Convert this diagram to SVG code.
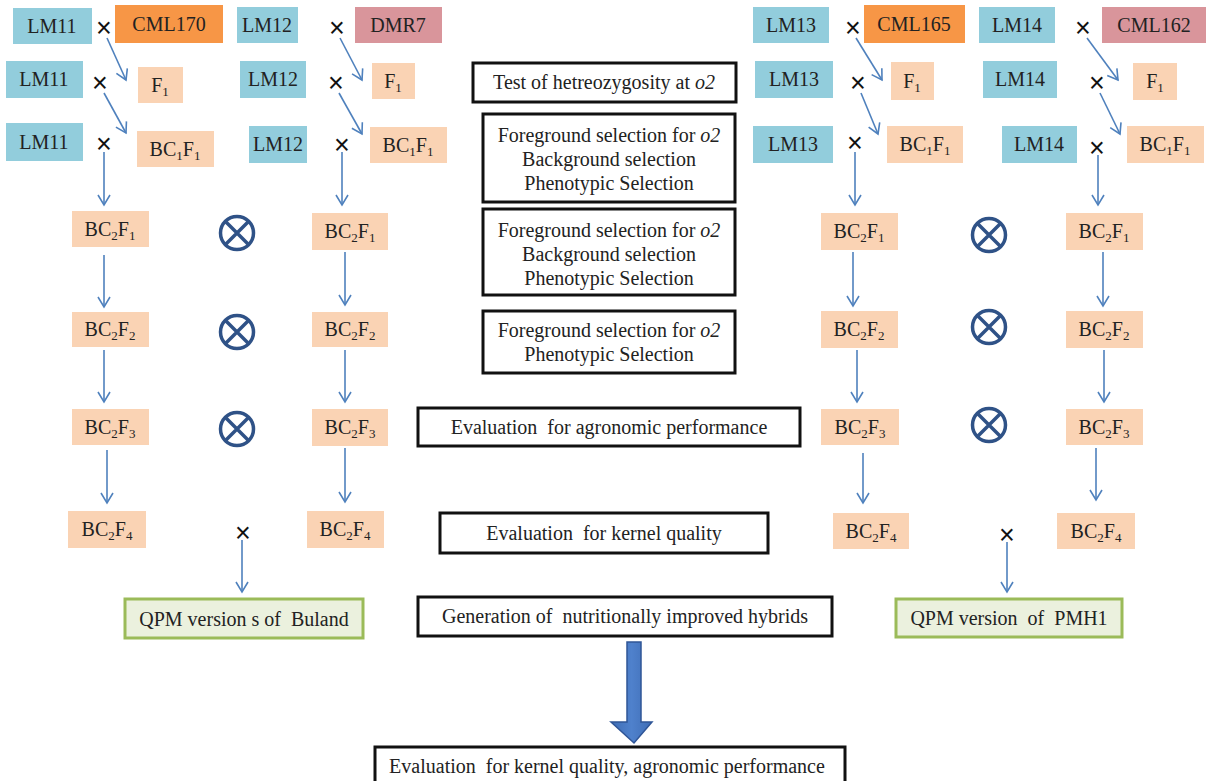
<svg xmlns="http://www.w3.org/2000/svg" width="1206" height="781" viewBox="0 0 1206 781" font-family="'Liberation Serif', 'Times New Roman', serif">
<defs>
<marker id="ah" markerUnits="userSpaceOnUse" markerWidth="16" markerHeight="16" refX="11" refY="7" orient="auto">
<path d="M1,1 L11,7 L1,13" fill="none" stroke="#4F81BD" stroke-width="1.6"/>
</marker>
<linearGradient id="bg" x1="0" y1="0" x2="1" y2="0">
<stop offset="0" stop-color="#3F6DB5"/><stop offset="0.5" stop-color="#4F81CC"/><stop offset="1" stop-color="#3F6DB5"/>
</linearGradient>
</defs>
<style>
text{font-family:'Liberation Serif','Times New Roman',serif;font-size:20px;fill:#222;text-anchor:middle;white-space:pre}
.lm{fill:#92CDDC}
.or{fill:#F79646}
.pk{fill:#D9959B}
.pe{fill:#FAD3B4}
.qp{fill:#EBF1DE;stroke:#9BBB59;stroke-width:3}
.bx{fill:#fff;stroke:#111;stroke-width:3}
.cn line{stroke:#4F81BD;stroke-width:1.6;marker-end:url(#ah)}
text.x{font-family:'Liberation Sans',Arial,sans-serif;font-size:27px;fill:#111}
.ot circle{fill:none;stroke:#2F5287;stroke-width:3.5}
.ot path{stroke:#2F5287;stroke-width:3.5}
.s{font-size:13px}
</style>
<rect width="1206" height="781" fill="#fff"/>

<!-- Left parents -->
<g id="LM11a"><rect class="lm" x="13" y="8" width="79" height="36"/><text x="52" y="33">LM11</text></g>
<g id="CML170"><rect class="or" x="115" y="5" width="108" height="38"/><text x="169" y="31">CML170</text></g>
<g id="LM12a"><rect class="lm" x="237" y="7" width="61" height="36"/><text x="267" y="32">LM12</text></g>
<g id="DMR7"><rect class="pk" x="355" y="7" width="87" height="36"/><text x="398" y="32">DMR7</text></g>
<g id="LM11b"><rect class="lm" x="6" y="61" width="77" height="37"/><text x="44" y="86">LM11</text></g>
<g id="F1a"><rect class="pe" x="138" y="67" width="45" height="36"/><text x="160" y="92">F<tspan class="s" dy="4">1</tspan></text></g>
<g id="LM12b"><rect class="lm" x="240" y="61" width="66" height="37"/><text x="273" y="86">LM12</text></g>
<g id="F1b"><rect class="pe" x="372" y="63" width="43" height="36"/><text x="393" y="88">F<tspan class="s" dy="4">1</tspan></text></g>
<g id="LM11c"><rect class="lm" x="6" y="123" width="77" height="38"/><text x="44" y="149">LM11</text></g>
<g id="BC1F1a"><rect class="pe" x="137" y="131" width="77" height="36"/><text x="175" y="156">BC<tspan class="s" dy="4">1</tspan><tspan dy="-4">F</tspan><tspan class="s" dy="4">1</tspan></text></g>
<g id="LM12c"><rect class="lm" x="249" y="126" width="58" height="37"/><text x="278" y="151">LM12</text></g>
<g id="BC1F1b"><rect class="pe" x="370" y="127" width="77" height="36"/><text x="408" y="152">BC<tspan class="s" dy="4">1</tspan><tspan dy="-4">F</tspan><tspan class="s" dy="4">1</tspan></text></g>

<!-- Right parents -->
<g id="LM13a"><rect class="lm" x="753" y="7" width="76" height="36"/><text x="791" y="32">LM13</text></g>
<g id="CML165"><rect class="or" x="864" y="5" width="101" height="38"/><text x="914" y="31">CML165</text></g>
<g id="LM14a"><rect class="lm" x="979" y="7" width="76" height="36"/><text x="1017" y="32">LM14</text></g>
<g id="CML162"><rect class="pk" x="1102" y="7" width="104" height="36"/><text x="1154" y="32">CML162</text></g>
<g id="LM13b"><rect class="lm" x="755" y="61" width="78" height="37"/><text x="794" y="86">LM13</text></g>
<g id="F1c"><rect class="pe" x="891" y="62" width="43" height="38"/><text x="912" y="88">F<tspan class="s" dy="4">1</tspan></text></g>
<g id="LM14b"><rect class="lm" x="983" y="61" width="74" height="37"/><text x="1020" y="86">LM14</text></g>
<g id="F1d"><rect class="pe" x="1133" y="63" width="44" height="37"/><text x="1155" y="88">F<tspan class="s" dy="4">1</tspan></text></g>
<g id="LM13c"><rect class="lm" x="753" y="126" width="80" height="37"/><text x="793" y="151">LM13</text></g>
<g id="BC1F1c"><rect class="pe" x="887" y="126" width="76" height="37"/><text x="925" y="151">BC<tspan class="s" dy="4">1</tspan><tspan dy="-4">F</tspan><tspan class="s" dy="4">1</tspan></text></g>
<g id="LM14c"><rect class="lm" x="1002" y="126" width="75" height="37"/><text x="1039" y="151">LM14</text></g>
<g id="BC1F1d"><rect class="pe" x="1127" y="126" width="77" height="37"/><text x="1165" y="151">BC<tspan class="s" dy="4">1</tspan><tspan dy="-4">F</tspan><tspan class="s" dy="4">1</tspan></text></g>

<!-- BC2 generations -->
<g id="BC2F1a"><rect class="pe" x="72" y="211" width="77" height="36"/><text x="110" y="236">BC<tspan class="s" dy="4">2</tspan><tspan dy="-4">F</tspan><tspan class="s" dy="4">1</tspan></text></g>
<g id="BC2F1b"><rect class="pe" x="312" y="213" width="76" height="37"/><text x="350" y="238">BC<tspan class="s" dy="4">2</tspan><tspan dy="-4">F</tspan><tspan class="s" dy="4">1</tspan></text></g>
<g id="BC2F2a"><rect class="pe" x="72" y="312" width="77" height="35"/><text x="110" y="336">BC<tspan class="s" dy="4">2</tspan><tspan dy="-4">F</tspan><tspan class="s" dy="4">2</tspan></text></g>
<g id="BC2F2b"><rect class="pe" x="312" y="312" width="76" height="35"/><text x="350" y="336">BC<tspan class="s" dy="4">2</tspan><tspan dy="-4">F</tspan><tspan class="s" dy="4">2</tspan></text></g>
<g id="BC2F3a"><rect class="pe" x="72" y="409" width="77" height="36"/><text x="110" y="434">BC<tspan class="s" dy="4">2</tspan><tspan dy="-4">F</tspan><tspan class="s" dy="4">3</tspan></text></g>
<g id="BC2F3b"><rect class="pe" x="312" y="409" width="76" height="37"/><text x="350" y="434">BC<tspan class="s" dy="4">2</tspan><tspan dy="-4">F</tspan><tspan class="s" dy="4">3</tspan></text></g>
<g id="BC2F4a"><rect class="pe" x="68" y="511" width="78" height="37"/><text x="107" y="536">BC<tspan class="s" dy="4">2</tspan><tspan dy="-4">F</tspan><tspan class="s" dy="4">4</tspan></text></g>
<g id="BC2F4b"><rect class="pe" x="307" y="511" width="77" height="37"/><text x="345" y="536">BC<tspan class="s" dy="4">2</tspan><tspan dy="-4">F</tspan><tspan class="s" dy="4">4</tspan></text></g>

<g id="BC2F1c"><rect class="pe" x="821" y="213" width="77" height="37"/><text x="859" y="238">BC<tspan class="s" dy="4">2</tspan><tspan dy="-4">F</tspan><tspan class="s" dy="4">1</tspan></text></g>
<g id="BC2F1d"><rect class="pe" x="1066" y="213" width="77" height="37"/><text x="1104" y="238">BC<tspan class="s" dy="4">2</tspan><tspan dy="-4">F</tspan><tspan class="s" dy="4">1</tspan></text></g>
<g id="BC2F2c"><rect class="pe" x="821" y="311" width="77" height="37"/><text x="859" y="336">BC<tspan class="s" dy="4">2</tspan><tspan dy="-4">F</tspan><tspan class="s" dy="4">2</tspan></text></g>
<g id="BC2F2d"><rect class="pe" x="1066" y="311" width="77" height="37"/><text x="1104" y="336">BC<tspan class="s" dy="4">2</tspan><tspan dy="-4">F</tspan><tspan class="s" dy="4">2</tspan></text></g>
<g id="BC2F3c"><rect class="pe" x="821" y="409" width="78" height="36"/><text x="860" y="434">BC<tspan class="s" dy="4">2</tspan><tspan dy="-4">F</tspan><tspan class="s" dy="4">3</tspan></text></g>
<g id="BC2F3d"><rect class="pe" x="1066" y="409" width="77" height="36"/><text x="1104" y="434">BC<tspan class="s" dy="4">2</tspan><tspan dy="-4">F</tspan><tspan class="s" dy="4">3</tspan></text></g>
<g id="BC2F4c"><rect class="pe" x="833" y="513" width="76" height="36"/><text x="871" y="538">BC<tspan class="s" dy="4">2</tspan><tspan dy="-4">F</tspan><tspan class="s" dy="4">4</tspan></text></g>
<g id="BC2F4d"><rect class="pe" x="1057" y="513" width="78" height="36"/><text x="1096" y="538">BC<tspan class="s" dy="4">2</tspan><tspan dy="-4">F</tspan><tspan class="s" dy="4">4</tspan></text></g>

<!-- QPM results -->
<g id="QPM_Buland"><rect class="qp" x="125" y="599" width="238" height="39"/><text x="244" y="626">QPM version s of  Buland</text></g>
<g id="QPM_PMH1"><rect class="qp" x="896" y="599" width="226" height="38"/><text x="1009" y="625">QPM version  of  PMH1</text></g>

<!-- Cross symbols -->
<g id="crosses">
<text class="x" x="104" y="37">×</text>
<text class="x" x="337" y="37">×</text>
<text class="x" x="100" y="92">×</text>
<text class="x" x="336" y="92">×</text>
<text class="x" x="104" y="153">×</text>
<text class="x" x="342" y="154">×</text>
<text class="x" x="853" y="37">×</text>
<text class="x" x="1083" y="37">×</text>
<text class="x" x="858" y="92">×</text>
<text class="x" x="1097" y="92">×</text>
<text class="x" x="855" y="152">×</text>
<text class="x" x="1097" y="157">×</text>
<text class="x" x="243" y="542">×</text>
<text class="x" x="1007" y="544">×</text>
</g>

<!-- Selfing symbols -->
<g id="selfing" class="ot">
<g><circle cx="237" cy="233" r="16.5"/><path d="M225.5,221.5 L248.5,244.5 M248.5,221.5 L225.5,244.5"/></g>
<g><circle cx="237" cy="332" r="16.5"/><path d="M225.5,320.5 L248.5,343.5 M248.5,320.5 L225.5,343.5"/></g>
<g><circle cx="237" cy="429" r="16.5"/><path d="M225.5,417.5 L248.5,440.5 M248.5,417.5 L225.5,440.5"/></g>
<g><circle cx="989" cy="235" r="16.5"/><path d="M977.5,223.5 L1000.5,246.5 M1000.5,223.5 L977.5,246.5"/></g>
<g><circle cx="989" cy="327" r="16.5"/><path d="M977.5,315.5 L1000.5,338.5 M1000.5,315.5 L977.5,338.5"/></g>
<g><circle cx="989" cy="425" r="16.5"/><path d="M977.5,413.5 L1000.5,436.5 M1000.5,413.5 L977.5,436.5"/></g>
</g>

<!-- Step boxes -->
<g id="step1"><rect class="bx" x="473" y="63" width="263" height="39"/><text x="604" y="89">Test of hetreozygosity at <tspan font-style="italic">o2</tspan></text></g>
<g id="step2"><rect class="bx" x="483" y="114" width="252" height="88"/><text x="609" y="142">Foreground selection for <tspan font-style="italic">o2</tspan></text><text x="609" y="166">Background selection</text><text x="609" y="190">Phenotypic Selection</text></g>
<g id="step3"><rect class="bx" x="483" y="209" width="252" height="86"/><text x="609" y="237">Foreground selection for <tspan font-style="italic">o2</tspan></text><text x="609" y="261">Background selection</text><text x="609" y="285">Phenotypic Selection</text></g>
<g id="step4"><rect class="bx" x="483" y="311" width="252" height="62"/><text x="609" y="337">Foreground selection for <tspan font-style="italic">o2</tspan></text><text x="609" y="361">Phenotypic Selection</text></g>
<g id="step5"><rect class="bx" x="418" y="408" width="382" height="38"/><text x="609" y="434">Evaluation  for agronomic performance</text></g>
<g id="step6"><rect class="bx" x="440" y="513" width="328" height="40"/><text x="604" y="540">Evaluation  for kernel quality</text></g>
<g id="step7"><rect class="bx" x="418" y="597" width="414" height="39"/><text x="625" y="623">Generation of  nutritionally improved hybrids</text></g>
<g id="step8"><rect class="bx" x="375" y="747" width="470" height="50"/><text x="607" y="773">Evaluation  for kernel quality, agronomic performance</text></g>

<!-- Connectors -->
<g id="connectors" class="cn">
<line x1="107" y1="38" x2="126" y2="80"/>
<line x1="104" y1="93" x2="126" y2="133"/>
<line x1="340" y1="38" x2="362" y2="80"/>
<line x1="339" y1="93" x2="362" y2="134"/>
<line x1="856" y1="38" x2="882" y2="80"/>
<line x1="861" y1="93" x2="878" y2="134"/>
<line x1="1087" y1="38" x2="1118" y2="80"/>
<line x1="1100" y1="93" x2="1120" y2="134"/>
<line x1="104" y1="152" x2="104" y2="205"/>
<line x1="342" y1="152" x2="342" y2="205"/>
<line x1="855" y1="152" x2="855" y2="205"/>
<line x1="1098" y1="155" x2="1098" y2="205"/>
<line x1="104" y1="255" x2="104" y2="307"/>
<line x1="345" y1="252" x2="345" y2="305"/>
<line x1="853" y1="252" x2="853" y2="306"/>
<line x1="1103" y1="252" x2="1103" y2="306"/>
<line x1="104" y1="350" x2="104" y2="402"/>
<line x1="345" y1="350" x2="345" y2="402"/>
<line x1="857" y1="350" x2="857" y2="402"/>
<line x1="1104" y1="350" x2="1104" y2="402"/>
<line x1="107" y1="450" x2="107" y2="503"/>
<line x1="345" y1="448" x2="345" y2="502"/>
<line x1="863" y1="453" x2="863" y2="503"/>
<line x1="1096" y1="448" x2="1096" y2="500"/>
<line x1="242" y1="540" x2="242" y2="592"/>
<line x1="1007" y1="542" x2="1007" y2="592"/>
<polygon points="627,642 641,642 641,722 652,722 634,743 611,722 627,722" fill="url(#bg)" stroke="#2F5597" stroke-width="1.5"/>
</g>
</svg>
